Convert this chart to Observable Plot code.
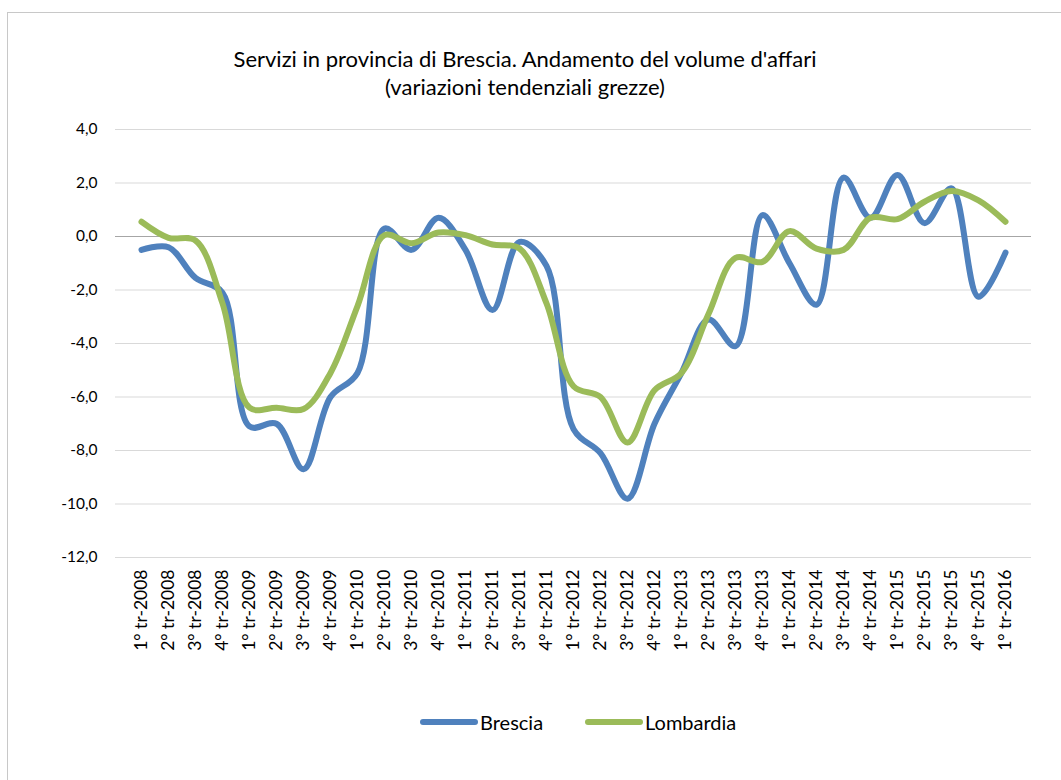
<!DOCTYPE html>
<html>
<head>
<meta charset="utf-8">
<script src="https://cdn.jsdelivr.net/npm/d3@7"></script>
<script src="https://cdn.jsdelivr.net/npm/@observablehq/plot@0.6"></script>
<style>
  html, body { margin: 0; padding: 0; background: #fff; }
  #wrap { position: relative; width: 1061px; height: 780px; overflow: hidden; font-family: Lato, "Open Sans", sans-serif; }
  #frame { position: absolute; left: 7px; top: 12px; width: 1100px; height: 800px; border: 1.5px solid #c8c8c8; box-sizing: border-box; }
  #title { position: absolute; left: 0; width: 1050px; top: 45px; text-align: center; font-size: 22px; line-height: 28px; color: #000; }
  #chart { position: absolute; left: 0; top: 110px; }
  #legend { position: absolute; top: 710px; left: 0; width: 1061px; height: 24px; }
  .lg { position: absolute; top: 0; display: flex; align-items: center; font-size: 20px; color: #000; height: 24px; }
  .sw { display: inline-block; width: 58px; height: 6px; border-radius: 3px; margin-right: 2px; }
</style>
</head>
<body>
<div id="wrap">
  <div id="frame"></div>
  <div id="title">Servizi in provincia di Brescia. Andamento del volume d'affari<br>(variazioni tendenziali grezze)</div>
  <div id="chart"></div>
  <div id="legend"></div>
</div>
<script>
const quarters = [
  "1° tr-2008","2° tr-2008","3° tr-2008","4° tr-2008",
  "1° tr-2009","2° tr-2009","3° tr-2009","4° tr-2009",
  "1° tr-2010","2° tr-2010","3° tr-2010","4° tr-2010",
  "1° tr-2011","2° tr-2011","3° tr-2011","4° tr-2011",
  "1° tr-2012","2° tr-2012","3° tr-2012","4° tr-2012",
  "1° tr-2013","2° tr-2013","3° tr-2013","4° tr-2013",
  "1° tr-2014","2° tr-2014","3° tr-2014","4° tr-2014",
  "1° tr-2015","2° tr-2015","3° tr-2015","4° tr-2015",
  "1° tr-2016"
];
const brescia = [
  -0.5, -0.4, -1.55, -2.1,
  -7.1, -7.0, -8.7, -6.0,
  -5.1, 0.3, -0.5, 0.7,
  -0.5, -2.75, -0.2, -1.1,
  -7.2, -8.1, -9.8, -7.0,
  -5.1, -3.1, -4.1, 0.8,
  -1.0, -2.55, 2.2, 0.7,
  2.3, 0.5, 1.8, -2.25,
  -0.6
];
const lombardia = [
  0.55, -0.05, -0.15, -2.5,
  -6.4, -6.4, -6.45, -5.1,
  -2.6, 0.05, -0.25, 0.15,
  0.05, -0.3, -0.45, -2.5,
  -5.6, -6.0, -7.7, -5.75,
  -5.1, -2.9, -0.8, -0.95,
  0.2, -0.45, -0.5, 0.7,
  0.65, 1.3, 1.7, 1.35,
  0.55
];
const seriesNames = ["Brescia", "Lombardia"];
const seriesColors = ["#4f81bd", "#9bbb59"];
const yTicks = [-12, -10, -8, -6, -4, -2, 0, 2, 4];

const rows = [];
quarters.forEach((q, i) => {
  rows.push({quarter: q, value: brescia[i], serie: seriesNames[0]});
  rows.push({quarter: q, value: lombardia[i], serie: seriesNames[1]});
});

const fmt = d => d.toFixed(1).replace(".", ",");

const chart = Plot.plot({
  width: 1061,
  height: 570,
  marginLeft: 115,
  marginRight: 30,
  marginTop: 19,
  marginBottom: 123,
  style: {fontFamily: "Lato, 'Open Sans', sans-serif", color: "#000", background: "transparent"},
  x: {type: "point", domain: quarters, padding: 0.5, label: null},
  y: {domain: [-12, 4], label: null},
  color: {domain: seriesNames, range: seriesColors},
  marks: [
    Plot.gridY(yTicks, {stroke: "#d9d9d9", strokeOpacity: 1, strokeWidth: 1.2}),
    Plot.ruleY([0], {stroke: "#a6a6a6", strokeWidth: 1.2}),
    Plot.axisY(yTicks, {tickSize: 0, tickPadding: 18, tickFormat: fmt, fontSize: 15.5, label: null}),
    Plot.axisX({tickSize: 0, tickRotate: -90, tickPadding: 12, fontSize: 17.5, label: null}),
    Plot.line(rows, {x: "quarter", y: "value", z: "serie", stroke: "serie", strokeWidth: 6, curve: "catmull-rom", strokeLinecap: "round", strokeLinejoin: "round"})
  ]
});
document.getElementById("chart").appendChild(chart);

const legend = document.getElementById("legend");
const lgX = [420, 585];
seriesNames.forEach((n, i) => {
  const d = document.createElement("div");
  d.className = "lg";
  d.style.left = lgX[i] + "px";
  d.innerHTML = `<span class="sw" style="background:${seriesColors[i]}"></span><span>${n}</span>`;
  legend.appendChild(d);
});
</script>
</body>
</html>
